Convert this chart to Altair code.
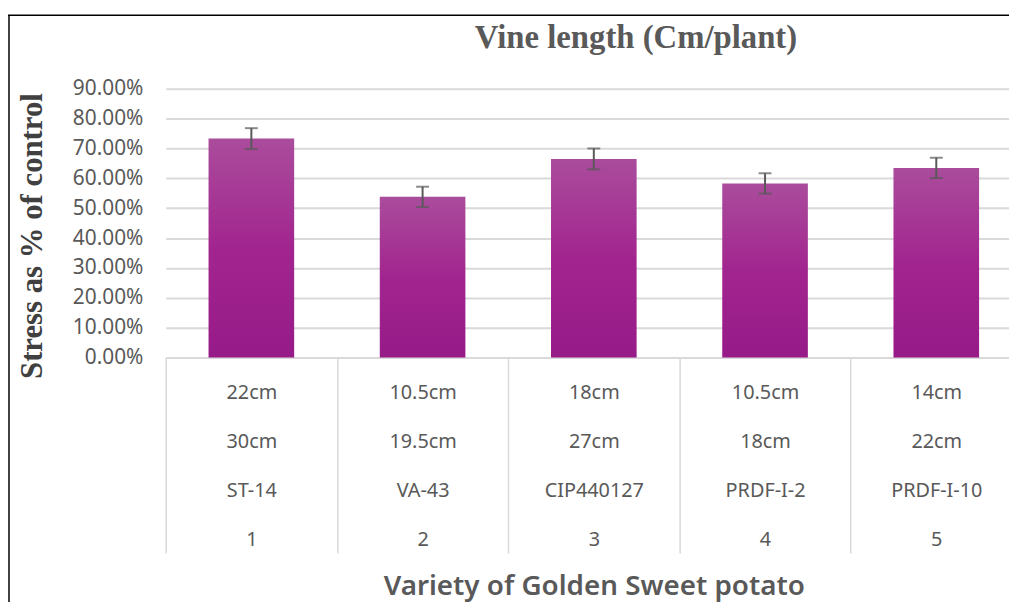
import altair as alt
import pandas as pd

# ---- data ----
variety_nums = ["1", "2", "3", "4", "5"]
varieties = ["ST-14", "VA-43", "CIP440127", "PRDF-I-2", "PRDF-I-10"]
stress_len = ["22cm", "10.5cm", "18cm", "10.5cm", "14cm"]
control_len = ["30cm", "19.5cm", "27cm", "18cm", "22cm"]
stress_pct = [0.733, 0.538, 0.665, 0.583, 0.635]
err_pct = [0.035, 0.034, 0.035, 0.034, 0.034]
y_ticks = [0.0, 0.1, 0.2, 0.3, 0.4, 0.5, 0.6, 0.7, 0.8, 0.9]
chart_title = "Vine length (Cm/plant)"

labels = [f"{s}|{c}|{v}|{n}" for s, c, v, n in zip(stress_len, control_len, varieties, variety_nums)]
df = pd.DataFrame({
    "cat": labels,
    "value": stress_pct,
    "lo": [v - e for v, e in zip(stress_pct, err_pct)],
    "hi": [v + e for v, e in zip(stress_pct, err_pct)],
})

W, H = 863, 271
GRAY = "#595959"
LIGHT = "#d9d9d9"
TICK = 197

x_scale = alt.Scale(domain=labels, paddingInner=0, paddingOuter=0)
y_scale = alt.Scale(domain=[0, 0.9], nice=False)

x_axis = alt.Axis(
    title="Variety of Golden Sweet potato",
    titleFont="Noto Sans", titleFontSize=28, titleFontWeight=600, titleColor=GRAY,
    titleY=239, titleBaseline="alphabetic",
    labelExpr="split(datum.label, '|')",
    labelFont="Noto Sans", labelFontSize=20, labelColor=GRAY, labelAngle=0,
    labelLineHeight=49.5, labelPadding=25 - TICK, labelBaseline="top",
    labelOverlap=False,
    ticks=True, tickBand="extent", tickSize=TICK, tickColor=LIGHT, tickWidth=1.5,
    domainColor=LIGHT, domainWidth=1.5, grid=False,
)
y_axis = alt.Axis(
    title="Stress as % of control",
    titleFont="Liberation Serif", titleFontSize=31, titleFontWeight="bold", titleColor="#404040",
    titleAngle=-90, titleX=-134, titleY=148, titleAlign="center", titleBaseline="middle",
    values=y_ticks, format=".2%", labelOverlap=False,
    labelFont="Noto Sans", labelFontSize=21, labelColor=GRAY, labelPadding=23,
    ticks=False, domain=False, grid=True, gridColor=LIGHT, gridWidth=2,
)

base = alt.Chart(df)
X = alt.X("cat:N", scale=x_scale, axis=x_axis, sort=labels)

bars = base.mark_bar(
    width={"band": 0.5},
    color=alt.Gradient(
        gradient="linear", x1=0, x2=0, y1=0, y2=1,
        stops=[
            alt.GradientStop(color="#aa4c9c", offset=0),
            alt.GradientStop(color="#a2258f", offset=0.5),
            alt.GradientStop(color="#961a88", offset=1),
        ],
    ),
).encode(
    x=X,
    y=alt.Y("value:Q", scale=y_scale, axis=y_axis),
)

rule = base.mark_rule(color=GRAY, strokeWidth=2).encode(
    x=X, y=alt.Y("lo:Q", scale=y_scale, axis=y_axis), y2="hi:Q",
)
cap_lo = base.mark_tick(color=GRAY, size=13, thickness=2).encode(
    x=X, y=alt.Y("lo:Q", scale=y_scale, axis=y_axis)
)
cap_hi = base.mark_tick(color=GRAY, size=13, thickness=2).encode(
    x=X, y=alt.Y("hi:Q", scale=y_scale, axis=y_axis)
)

one = pd.DataFrame({"a": [0]})
title_text = alt.Chart(one).mark_text(
    text=chart_title, font="Liberation Serif", fontSize=33, fontWeight="bold",
    color=GRAY, align="center", baseline="alphabetic",
).encode(x=alt.value(474), y=alt.value(-41))

frame_top = alt.Chart(one).mark_rule(color="black", strokeWidth=1.5).encode(
    x=alt.value(-159), x2=alt.value(W + 20), y=alt.value(-74)
)
frame_left = alt.Chart(one).mark_rule(color="black", strokeWidth=1.5).encode(
    x=alt.value(-158), y=alt.value(-74), y2=alt.value(H + 260)
)

chart = alt.layer(bars, rule, cap_lo, cap_hi, title_text, frame_top, frame_left).properties(
    width=W, height=H,
    background="white",
    autosize=alt.AutoSizeParams(type="none"),
    padding={"left": 159, "top": 79, "right": -13, "bottom": 244},
).configure_view(stroke=None)

chart.save("out.html", embed_options={"renderer": "svg", "actions": False})
